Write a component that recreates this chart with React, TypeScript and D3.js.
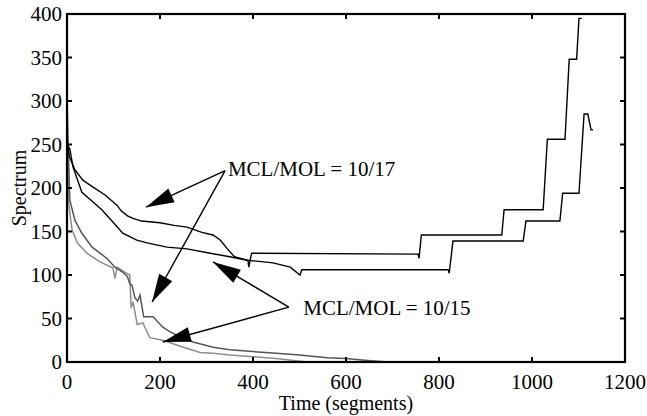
import React from "react";
import * as d3 from "d3";

// time (segments) / spectrum pairs
const blackA: [number, number][] = [
  [0, 258], [5, 236], [17, 221], [34, 209], [56, 201], [82, 192], [108, 180], [116, 174],
  [130, 168], [142, 165], [160, 162], [200, 160], [230, 157], [258, 155], [290, 149],
  [314, 146], [330, 140], [345, 130], [360, 121], [389, 117], [391, 109], [397, 125],
  [755, 124], [757, 119], [762, 146], [935, 146], [940, 175], [1024, 175], [1033, 256],
  [1071, 256], [1080, 348], [1096, 348], [1101, 395], [1107, 395],
];
const blackB: [number, number][] = [
  [0, 250], [6, 245], [13, 224], [32, 195], [56, 184], [75, 175], [100, 160], [120, 148],
  [150, 140], [172, 137], [215, 132], [258, 130], [308, 125], [350, 121], [387, 117],
  [443, 114], [480, 109], [501, 100], [505, 106], [820, 106], [822, 102], [830, 139],
  [981, 139], [987, 162], [1060, 162], [1066, 194], [1101, 194], [1112, 285], [1120, 285],
  [1127, 267], [1131, 267],
];
const grayDark: [number, number][] = [
  [0, 305], [3, 240], [6, 186], [17, 163], [32, 148], [54, 132], [86, 119], [103, 109],
  [118, 104], [130, 98], [135, 90], [140, 88], [146, 74], [152, 70], [157, 77], [165, 52],
  [185, 52], [206, 40], [221, 35], [243, 29], [271, 23], [314, 17], [350, 14], [400, 12],
  [450, 10], [500, 8], [560, 5], [600, 4], [640, 2], [690, 0], [1130, 0],
];
const grayLight: [number, number][] = [
  [0, 258], [4, 180], [11, 152], [22, 137], [43, 125], [71, 115], [99, 108], [103, 96],
  [108, 109], [125, 103], [135, 100], [138, 62], [142, 69], [151, 43], [163, 45], [178, 28],
  [206, 25], [250, 17], [286, 11], [314, 10], [350, 8], [400, 6], [450, 4], [516, 0],
  [1130, 0],
];

const xTicks = [0, 200, 400, 600, 800, 1000, 1200];
const yTicks = [0, 50, 100, 150, 200, 250, 300, 350, 400];

// annotations, in data units
const notes = [
  { text: "MCL/MOL = 10/17", at: [346, 214], from: [340, 220], tips: [[170, 178], [183, 69]] },
  { text: "MCL/MOL = 10/15", at: [508, 54], from: [477, 63], tips: [[314, 115], [206, 23]] },
];

const W = 647, H = 416;
const m = { left: 67, right: 22, top: 14, bottom: 54 };
const font = "Liberation Serif, Times New Roman, serif";

export default function App() {
  const x = d3.scaleLinear().domain([0, 1200]).range([m.left, W - m.right]);
  const y = d3.scaleLinear().domain([0, 400]).range([H - m.bottom, m.top]);
  const line = d3.line<[number, number]>().x(d => x(d[0])).y(d => y(d[1]));

  const arrowHead = (fx: number, fy: number, tx: number, ty: number) => {
    const dx = fx - tx, dy = fy - ty;
    const len = Math.hypot(dx, dy);
    const ux = dx / len, uy = dy / len;
    const L = 28, hw = 7.5;
    const bx = tx + ux * L, by = ty + uy * L;
    return `M${tx},${ty}L${bx - uy * hw},${by + ux * hw}L${bx + uy * hw},${by - ux * hw}Z`;
  };

  return (
    <svg width={W} height={H}
      style={{ position: "absolute", left: 0, top: 0, background: "#fff", fontFamily: font }}>
      <path d={line(grayLight) || ""} fill="none" stroke="#8c8c8c" strokeWidth={1.5} />
      <path d={line(grayDark) || ""} fill="none" stroke="#555" strokeWidth={1.5} />
      <path d={line(blackB) || ""} fill="none" stroke="#000" strokeWidth={1.4} />
      <path d={line(blackA) || ""} fill="none" stroke="#000" strokeWidth={1.4} />

      {notes.map((n, i) => (
        <g key={i}>
          {n.tips.map((t, j) => {
            const fx = x(n.from[0]), fy = y(n.from[1]);
            const tx = x(t[0]), ty = y(t[1]);
            return (
              <g key={j}>
                <line x1={fx} y1={fy} x2={tx} y2={ty} stroke="#000" strokeWidth={1.4} />
                <path d={arrowHead(fx, fy, tx, ty)} fill="#000" />
              </g>
            );
          })}
          <text x={x(n.at[0])} y={y(n.at[1])} fontSize={21}>{n.text}</text>
        </g>
      ))}

      {/* frame and inward ticks */}
      <rect x={x(0)} y={y(400)} width={x(1200) - x(0)} height={y(0) - y(400)}
        fill="none" stroke="#000" strokeWidth={2.2} />
      {xTicks.map(t => (
        <g key={"x" + t}>
          <line x1={x(t)} x2={x(t)} y1={y(0)} y2={y(0) - 5} stroke="#000" strokeWidth={2} />
          <line x1={x(t)} x2={x(t)} y1={y(400)} y2={y(400) + 5} stroke="#000" strokeWidth={2} />
          <text x={x(t)} y={y(0) + 27} textAnchor="middle" fontSize={21}>{t}</text>
        </g>
      ))}
      {yTicks.map(t => (
        <g key={"y" + t}>
          <line x1={x(0)} x2={x(0) + 5} y1={y(t)} y2={y(t)} stroke="#000" strokeWidth={2} />
          <line x1={x(1200)} x2={x(1200) - 5} y1={y(t)} y2={y(t)} stroke="#000" strokeWidth={2} />
          <text x={x(0) - 5} y={y(t) + 7} textAnchor="end" fontSize={21}>{t}</text>
        </g>
      ))}
      <text x={(x(0) + x(1200)) / 2} y={H - 6} textAnchor="middle" fontSize={20}>
        Time (segments)
      </text>
      <text transform={`translate(26,${(y(0) + y(400)) / 2}) rotate(-90)`} textAnchor="middle"
        fontSize={20}>Spectrum</text>
    </svg>
  );
}
